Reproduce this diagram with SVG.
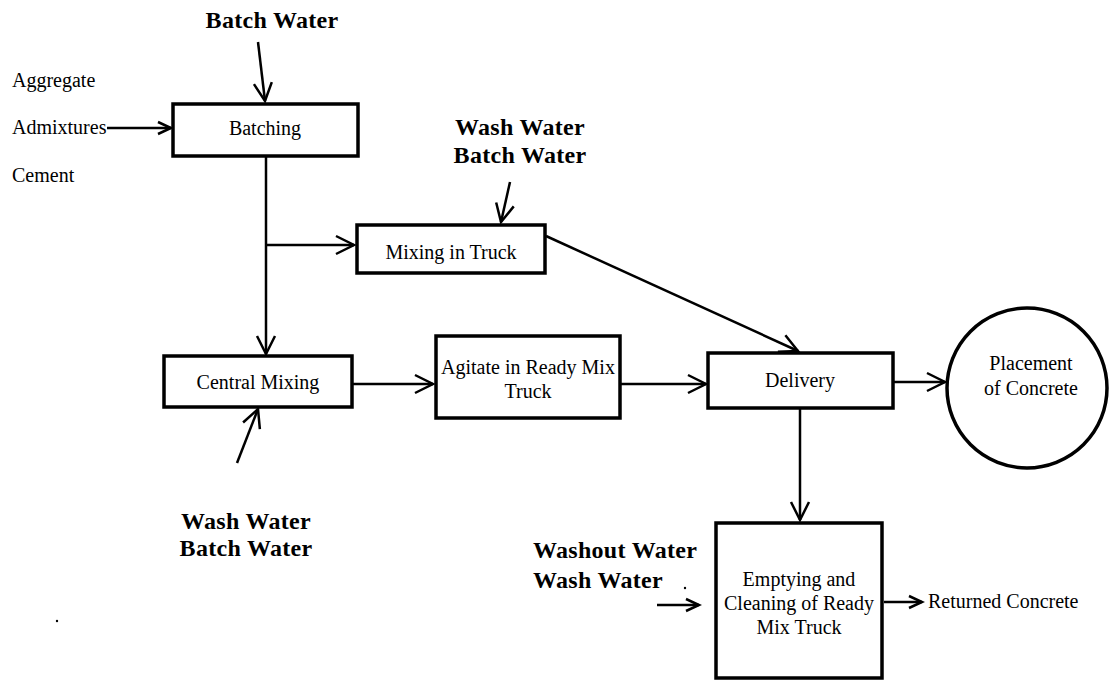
<svg xmlns="http://www.w3.org/2000/svg" width="1109" height="680" viewBox="0 0 1109 680">
<defs>
<style>
.box{fill:#fff;stroke:#000;stroke-width:3.5}
.ln{fill:none;stroke:#000;stroke-width:2.5}
.t{font-family:"Liberation Serif",serif;font-size:20px;fill:#000;text-anchor:middle}
.tl{font-family:"Liberation Serif",serif;font-size:20px;fill:#000}
.b{font-family:"Liberation Serif",serif;font-size:24px;font-weight:bold;letter-spacing:0.3px;fill:#000}
</style>
<marker id="ah" markerUnits="userSpaceOnUse" markerWidth="24" markerHeight="24" viewBox="0 0 24 24" refX="20" refY="12" orient="auto">
<path d="M2,3 L20,12 L2,21" fill="none" stroke="#000" stroke-width="2.5"/>
</marker>
<marker id="ahs" markerUnits="userSpaceOnUse" markerWidth="20" markerHeight="20" viewBox="0 0 20 20" refX="16" refY="10" orient="auto">
<path d="M3,4 L16,10 L3,16" fill="none" stroke="#000" stroke-width="2.5"/>
</marker>
</defs>
<rect width="1109" height="680" fill="#fff"/>
<g id="connectors">
<line class="ln" x1="258" y1="42" x2="265" y2="101" marker-end="url(#ah)"/>
<line class="ln" x1="107" y1="128" x2="171" y2="128" marker-end="url(#ahs)"/>
<line class="ln" x1="266" y1="157" x2="266" y2="354" marker-end="url(#ah)"/>
<line class="ln" x1="266" y1="245" x2="354" y2="245" marker-end="url(#ah)"/>
<line class="ln" x1="510" y1="182" x2="501" y2="222" marker-end="url(#ah)"/>
<line class="ln" x1="546" y1="236" x2="798" y2="351" marker-end="url(#ah)"/>
<line class="ln" x1="237" y1="463" x2="258" y2="409" marker-end="url(#ah)"/>
<line class="ln" x1="353" y1="384" x2="433" y2="384" marker-end="url(#ah)"/>
<line class="ln" x1="621" y1="384" x2="706" y2="384" marker-end="url(#ah)"/>
<line class="ln" x1="894" y1="382" x2="945" y2="382" marker-end="url(#ah)"/>
<line class="ln" x1="800" y1="409" x2="800" y2="520" marker-end="url(#ah)"/>
<line class="ln" x1="657" y1="605" x2="699" y2="605" marker-end="url(#ahs)"/>
<line class="ln" x1="884" y1="602" x2="922" y2="602" marker-end="url(#ahs)"/>
</g>
<g id="inputs">
<text class="b" x="272" y="28" text-anchor="middle">Batch Water</text>
<text class="tl" x="12" y="87">Aggregate</text>
<text class="tl" x="12" y="134">Admixtures</text>
<text class="tl" x="12" y="182">Cement</text>
<text class="b" x="520" y="135" text-anchor="middle">Wash Water</text>
<text class="b" x="520" y="163" text-anchor="middle">Batch Water</text>
<text class="b" x="246" y="529" text-anchor="middle">Wash Water</text>
<text class="b" x="246" y="556" text-anchor="middle">Batch Water</text>
<text class="b" x="533" y="558">Washout Water</text>
<text class="b" x="533" y="588">Wash Water</text>
<circle cx="685" cy="588" r="1.2" fill="#000"/>
<circle cx="57" cy="621" r="1.2" fill="#000"/>
<text class="tl" x="928" y="608">Returned Concrete</text>
</g>
<g id="batching">
<rect class="box" x="173" y="104" width="185" height="52"/>
<text class="t" x="265" y="135">Batching</text>
</g>
<g id="mixing-in-truck">
<rect class="box" x="357" y="225" width="188" height="48"/>
<text class="t" x="451" y="259">Mixing in Truck</text>
</g>
<g id="central-mixing">
<rect class="box" x="164" y="356" width="188" height="51"/>
<text class="t" x="258" y="389">Central Mixing</text>
</g>
<g id="agitate">
<rect class="box" x="436" y="336" width="184" height="82"/>
<text class="t" x="528" y="374">Agitate in Ready Mix</text>
<text class="t" x="528" y="398">Truck</text>
</g>
<g id="delivery">
<rect class="box" x="708" y="353" width="185" height="55"/>
<text class="t" x="800" y="387">Delivery</text>
</g>
<g id="placement">
<circle cx="1027" cy="388" r="80" fill="#fff" stroke="#000" stroke-width="3.5"/>
<text class="t" x="1031" y="370">Placement</text>
<text class="t" x="1031" y="395">of Concrete</text>
</g>
<g id="emptying">
<rect class="box" x="716" y="523" width="166" height="155"/>
<text class="t" x="799" y="586">Emptying and</text>
<text class="t" x="799" y="610">Cleaning of Ready</text>
<text class="t" x="799" y="634">Mix Truck</text>
</g>
</svg>
